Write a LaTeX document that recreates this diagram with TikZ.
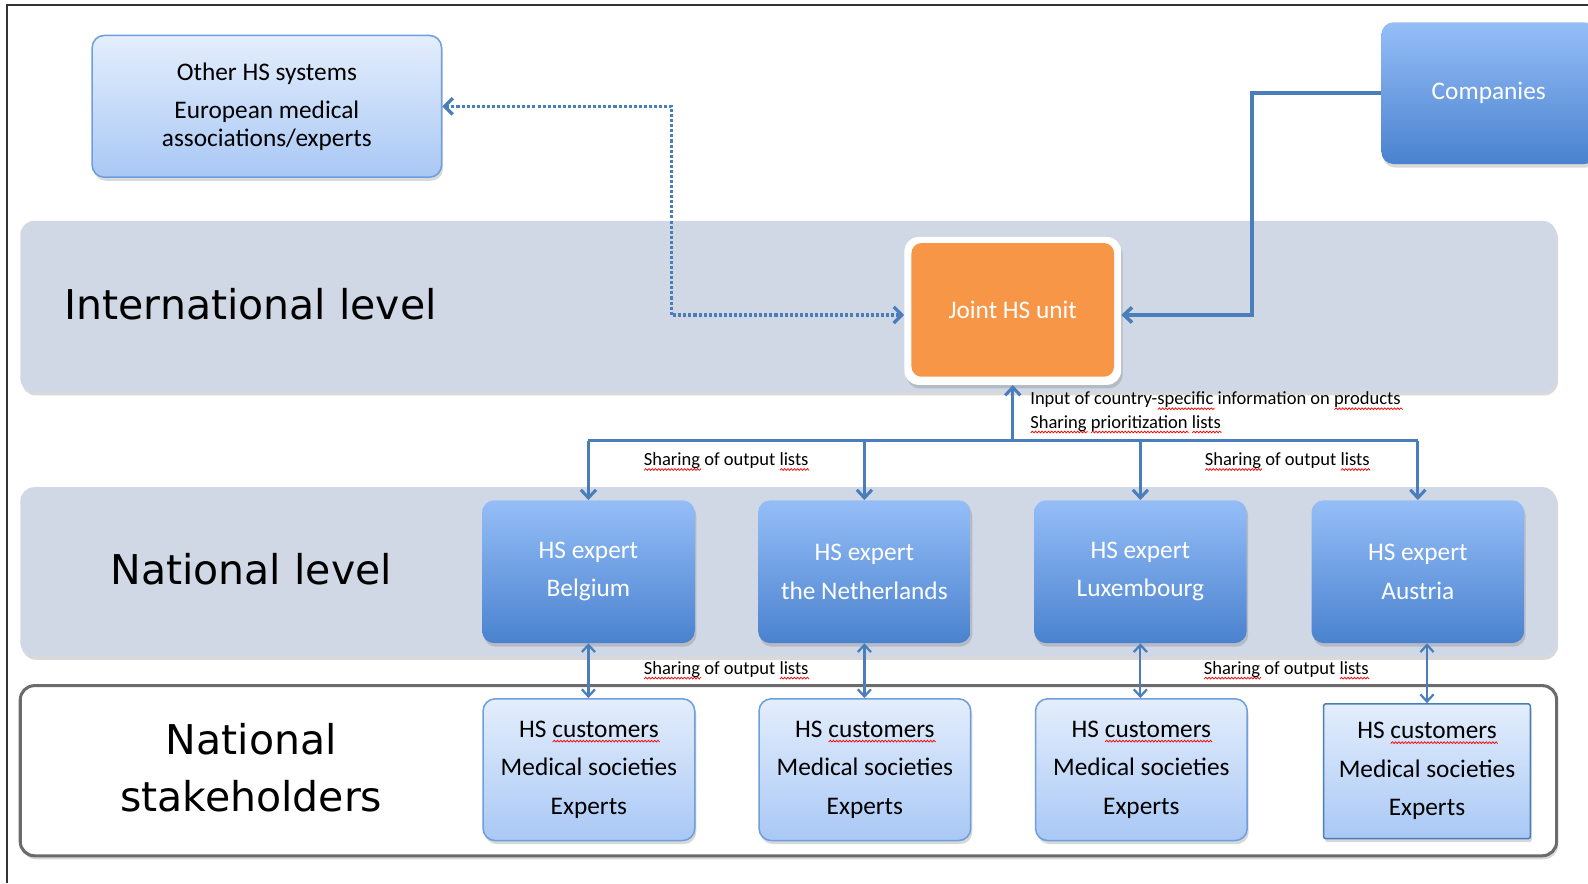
\documentclass[tikz,border=0pt]{standalone}
\usepackage{fontspec}
\setmainfont{Carlito}
\newfontfamily\lvlfont{DejaVu Sans}
\usetikzlibrary{arrows.meta,shadows}

% red wavy underline for flagged words, drawn with plain pgf path commands
\newsavebox\markbox
\newcount\wavek
\newdimen\wavex
\newcommand\spellmark[1]{\sbox\markbox{#1}%
  \rlap{\begin{pgfpicture}%
    \pgfsetbaseline{0pt}%
    \pgfsetcornersarced{\pgfpointorigin}%
    \pgfsetdash{}{0pt}%
    \pgfsetstrokecolor{red}%
    \pgfsetlinewidth{0.7pt}%
    \wavek=0 \wavex=0pt
    \pgfpathmoveto{\pgfpoint{0pt}{-4.6pt}}%
    \loop
      \advance\wavex by 1.6pt
      \advance\wavek by 1
      \ifodd\wavek \pgfpathlineto{\pgfpoint{\wavex}{-2.8pt}}%
      \else \pgfpathlineto{\pgfpoint{\wavex}{-4.6pt}}\fi
    \ifdim\wavex<\wd\markbox \repeat
    \pgfusepath{stroke}%
  \end{pgfpicture}}%
  \usebox\markbox}

\definecolor{linkblue}{HTML}{4A7EBB}
\definecolor{bandfill}{HTML}{D0D8E6}
\definecolor{paletop}{HTML}{E4EEFC}
\definecolor{palebot}{HTML}{A9C8F5}
\definecolor{paleedge}{HTML}{6E9EDD}
\definecolor{deeptop}{HTML}{95BEF7}
\definecolor{deepbot}{HTML}{4A82CF}
\definecolor{unitorange}{HTML}{F79646}
\definecolor{framegray}{HTML}{6B6B6B}

\tikzset{
  softshadow/.style={drop shadow={shadow xshift=1.5pt, shadow yshift=-3.5pt, opacity=0.25, fill=black!60}},
  band/.style={rounded corners=14pt, fill=bandfill, inner sep=0pt,
    minimum width=1517pt, softshadow},
  palebox/.style={rounded corners=12pt, draw=paleedge, line width=1.5pt,
    top color=paletop, bottom color=palebot, inner sep=0pt, align=center,
    minimum width=209pt, minimum height=140pt, softshadow,
    font=\fontsize{25}{38}\selectfont},
  deepbox/.style={rounded corners=12pt, top color=deeptop, bottom color=deepbot,
    text=white, inner sep=0pt, align=center,
    minimum width=210pt, minimum height=141pt, softshadow,
    font=\fontsize{25}{38}\selectfont},
  levellabel/.style={align=center, font=\lvlfont\fontsize{40.5}{57}\selectfont},
  smalllabel/.style={inner sep=0pt, font=\fontsize{18.3}{22}\selectfont},
  link/.style={draw=linkblue, line width=3pt},
  tip/.style={-{Straight Barb[length=8pt,width=15pt]}},
  dbltip/.style={{Straight Barb[length=7pt,width=13pt]}-{Straight Barb[length=7pt,width=13pt]}},
}

\begin{document}
\begin{tikzpicture}[x=1pt,y=-1pt]
\useasboundingbox (0,0) rectangle (1568,872);

% outer frame (top and left edges)
\draw[black!80, line width=1.5pt] (7,872) -- (7,5) -- (1568,5);

% level bands
\node[band, minimum height=169pt] (intband) at (778.5,302.5) {};
\node[band, minimum height=167pt] (natband) at (778.5,564.5) {};
\node[draw=framegray, line width=3pt, rounded corners=14pt, fill=white, inner sep=0pt,
      minimum width=1517pt, minimum height=168pt, softshadow] (stake) at (778.5,761) {};

\node[levellabel] (intlabel) at (247.5,300) {International level};
\node[levellabel] (natlabel) at (248,562) {National level};
\node[levellabel] (stakelabel) at (248,758) {National\\stakeholders};

% top row
\node[palebox, minimum width=345pt, font=\fontsize{25}{27}\selectfont] (other) at (263.5,105)
  {Other HS systems\\[11pt]European medical\\associations/experts};
\node[deepbox, minimum width=212pt, minimum height=140pt] (comp) at (1470,92) {Companies};

% joint unit
\node[fill=white, rounded corners=14pt, inner sep=0pt, minimum width=214pt,
      minimum height=146pt, softshadow] (joint) at (1000,307) {};
\node[fill=unitorange, rounded corners=10pt, inner sep=0pt, minimum width=200pt,
      minimum height=132pt, text=white, font=\fontsize{25}{30}\selectfont] (jointin) at (1000,306) {Joint HS unit};

% national experts
\node[deepbox] (e1) at (581,564.5) {HS expert\\Belgium};
\node[deepbox] (e2) at (853.5,564.5) {HS expert\\the Netherlands};
\node[deepbox] (e3) at (1126,564.5) {HS expert\\Luxembourg};
\node[deepbox] (e4) at (1400,564.5) {HS expert\\Austria};

% national stakeholders
\node[palebox] (c1) at (581.5,760) {HS \spellmark{customers}\\Medical societies\\Experts};
\node[palebox] (c2) at (854,760) {HS \spellmark{customers}\\Medical societies\\Experts};
\node[palebox] (c3) at (1127,760) {HS \spellmark{customers}\\Medical societies\\Experts};
\node[palebox, rounded corners=2pt, draw=linkblue, minimum width=204pt, minimum height=133pt] (c4) at (1409,761.5)
  {HS \spellmark{customers}\\Medical societies\\Experts};

% connectors to the joint unit
\coordinate (dotcorner) at (663,311);
\draw[link, line width=3.3pt, dash pattern=on 3pt off 2pt, {Straight Barb[length=8pt,width=16pt]}-{Straight Barb[length=8pt,width=16pt]}]
  (other.east) -| (dotcorner) -- (joint.west |- dotcorner);
\coordinate (compcorner) at (1236,311);
\draw[link, line width=3.5pt, tip] (comp.west) -| (compcorner) -- (joint.east |- compcorner);

% distribution tree
\coordinate (hub) at (1000,435);
\draw[link, tip] (hub) -- (joint.south);
\draw[link] (e1.north |- hub) -- (e4.north |- hub);
\foreach \e in {e1,e2,e3,e4}
  \draw[link, tip] (\e.north |- hub) -- (\e.north);

% expert <-> stakeholder links
\draw[link, line width=2.2pt, dbltip] (e1.south) -- (e1.south |- c1.north);
\draw[link, line width=2.2pt, dbltip] (e2.south) -- (e2.south |- c2.north);
\draw[link, line width=2.2pt, dbltip] (e3.south) -- (e3.south |- c3.north);
\draw[link, line width=2.2pt, dbltip] (c4.north |- e4.south) -- (c4.north);

% connector labels
\node[smalllabel, anchor=west] (inlabel) at (1017,396) {Input of country-\spellmark{specific} information on \spellmark{products}};
\node[smalllabel, anchor=west] (prlabel) at (1017,419) {\spellmark{Sharing} \spellmark{prioritization} \spellmark{lists}};
\node[smalllabel] (outa) at (717,456) {\spellmark{Sharing} of output \spellmark{lists}};
\node[smalllabel] (outb) at (1271,456) {\spellmark{Sharing} of output \spellmark{lists}};
\node[smalllabel] (outc) at (717,662) {\spellmark{Sharing} of output \spellmark{lists}};
\node[smalllabel] (outd) at (1270,662) {\spellmark{Sharing} of output \spellmark{lists}};
\end{tikzpicture}
\end{document}
